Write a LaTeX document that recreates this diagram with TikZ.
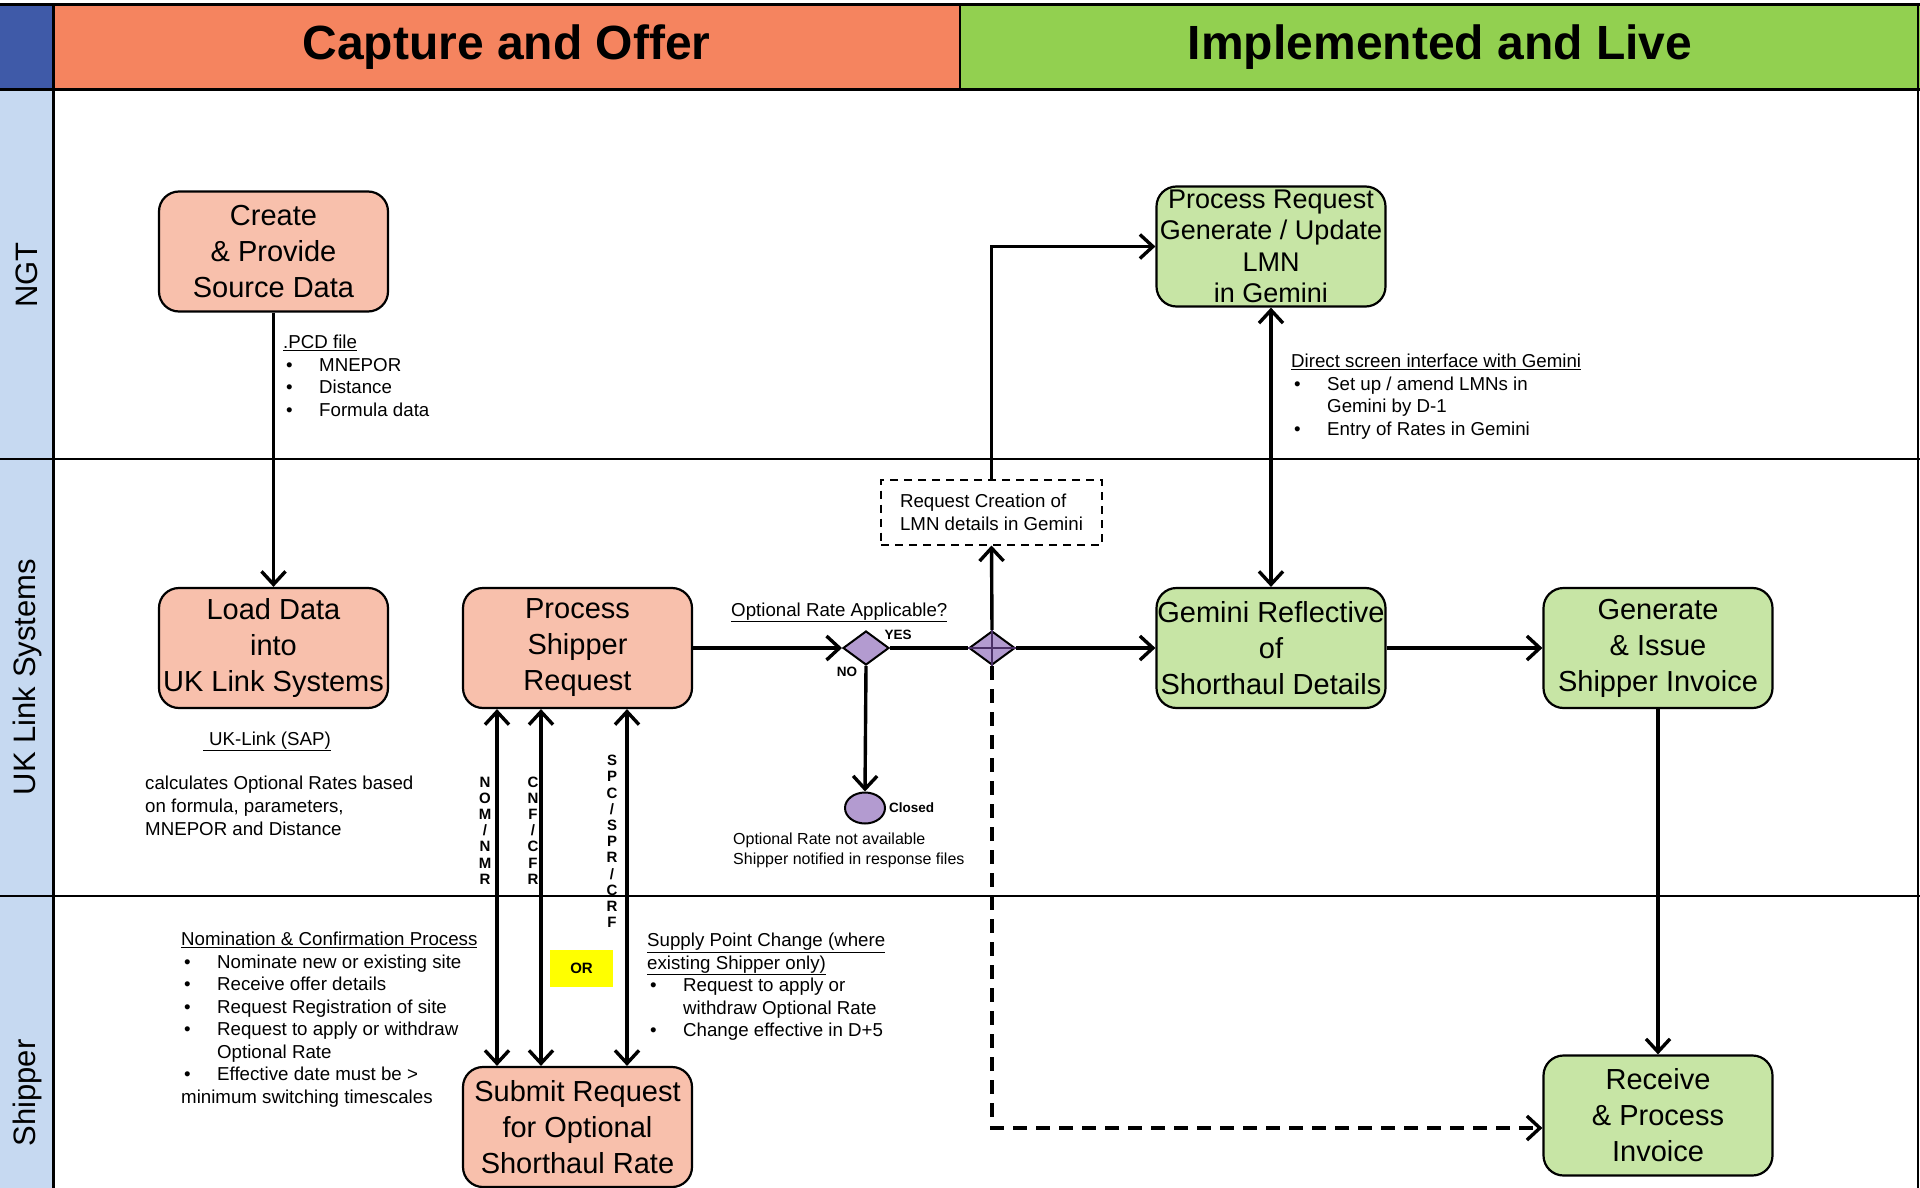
\documentclass[tikz,border=0pt]{standalone}
\usepackage{fontspec}
\setmainfont{Liberation Sans}
\usetikzlibrary{arrows.meta,shapes.geometric,calc}
\definecolor{hdrblue}{HTML}{3F5AA8}
\definecolor{lanecol}{HTML}{C6D9F1}
\definecolor{hdrorange}{HTML}{F5845F}
\definecolor{hdrgreen}{HTML}{92D050}
\definecolor{boxsalmon}{HTML}{F8C0AC}
\definecolor{boxgreen}{HTML}{C7E5A5}
\definecolor{decpurple}{HTML}{B39BD0}
\definecolor{crosspurple}{HTML}{4A2F66}
\definecolor{oryellow}{HTML}{FFFF00}
\newcommand\mybul{\hspace*{3pt}\makebox[33pt][l]{\textbullet}}
\newcommand\myind{\hspace*{36pt}}
\begin{document}
\begin{tikzpicture}[x=1pt,y=-1pt,
  box/.style={draw=black, line width=2.2pt, rounded corners=20pt, minimum width=229pt, minimum height=120pt, align=center, inner sep=0pt, font=\fontsize{29}{36}\selectfont},
  salmon/.style={box, fill=boxsalmon},
  greenbox/.style={box, fill=boxgreen},
  conn/.style={line width=3.4pt},
  arr/.style={conn, -{Straight Barb[length=13pt,width=24pt,line width=3.4pt]}},
  darr/.style={conn, {Straight Barb[length=13pt,width=24pt,line width=3.4pt]}-{Straight Barb[length=13pt,width=24pt,line width=3.4pt]}},
  dasharr/.style={arr, dash pattern=on 14pt off 9pt},
  small/.style={font=\fontsize{18.7}{22.5}\selectfont, inner sep=0pt, align=left},
  smaller/.style={font=\fontsize{16}{19.5}\selectfont, inner sep=0pt, align=left},
  letters/.style={font=\bfseries\fontsize{15}{16.2}\selectfont, inner sep=0pt, align=center},
  tag/.style={font=\bfseries\fontsize{13.5}{16}\selectfont, inner sep=0pt},
  lanelbl/.style={rotate=90, font=\fontsize{31}{36}\selectfont, inner sep=0pt},
  hdrtext/.style={font=\bfseries\fontsize{48}{56}\selectfont, inner sep=0pt},
  decision/.style={diamond, draw=black, line width=2pt, fill=decpurple, minimum width=46pt, minimum height=34pt, inner sep=0pt},
]
\useasboundingbox (0,0) rectangle (1920,1188);
% ---- backgrounds and lanes
\fill[white] (0,0) rectangle (1920,1188);
\fill[lanecol] (0,90) rectangle (53,1188);
\fill[hdrblue] (0,5) rectangle (53,90);
\fill[hdrorange] (53,5) rectangle (960,90);
\fill[hdrgreen] (960,5) rectangle (1920,90);
\draw[line width=3pt] (0,5) -- (1920,5);
\draw[line width=3pt] (0,90) -- (1920,90);
\draw[line width=2.5pt] (0,459) -- (1920,459);
\draw[line width=2.5pt] (0,896) -- (1920,896);
\draw[line width=3pt] (53,5) -- (53,1188);
\draw[line width=2pt] (960,5) -- (960,90);
\draw[line width=2pt] (1918,5) -- (1918,1188);

\node[hdrtext] (hdrA) at (506.5,47) {Capture and Offer};
\node[hdrtext] (hdrB) at (1440,47) {Implemented and Live};
\node[lanelbl] (laneA) at (27,275) {NGT};
\node[lanelbl] (laneB) at (27,677) {UK Link Systems};
\node[lanelbl] (laneC) at (27,1093) {Shipper};

% ---- process boxes
\node[salmon] (create) at (273.5,251.5) {Create\\\& Provide\\Source Data};
\node[salmon] (load) at (273.5,648) {Load Data\\into\\UK Link Systems};
\node[salmon] (psr) at (577.5,648) {Process\\Shipper\\Request};
\node[salmon] (sub) at (577.5,1127) {Submit Request\\for Optional\\Shorthaul Rate};
\node[greenbox, font=\fontsize{27}{31.5}\selectfont] (lmn) at (1271,246.5) {Process Request\\Generate / Update\\LMN\\in Gemini};
\node[greenbox] (gem) at (1271,648) {Gemini Reflective\\of\\Shorthaul Details};
\node[greenbox] (inv) at (1658,648) {Generate\\\& Issue\\Shipper Invoice};
\node[greenbox] (recv) at (1658,1115.5) {Receive\\\& Process\\Invoice};
\node[draw=black, line width=2pt, dash pattern=on 8pt off 6pt, minimum width=221pt, minimum height=65pt, inner sep=0pt, font=\fontsize{18.7}{23}\selectfont, align=left] (req) at (991.5,512) {Request Creation of\\LMN details in Gemini};

% ---- decisions
\node[decision] (d1) at (866,648) {};
\node[decision] (d2) at (992,648) {};
\node[ellipse, draw=black, line width=2pt, fill=decpurple, minimum width=40pt, minimum height=31pt, inner sep=0pt] (closed) at (865,808) {};

% ---- connectors
\draw[arr] (create.south) -- (load.north);
\draw[arr] (psr.east) -- (d1.west);
\draw[conn] (d1.east) -- (d2.west);
\draw[arr] (d2.east) -- (gem.west);
\draw[arr] (d1.south) -- (closed.north);
\draw[arr] (d2.north) -- (req.south);
\draw[arr] (req.north) |- (lmn.west);
\coordinate (dcorner) at (992,1128);
\draw[dasharr] (d2.south) -- (dcorner) -- (recv.west |- dcorner);
\draw[crosspurple, line width=2.5pt] (d2.west) -- (d2.east) (d2.north) -- (d2.south);
\draw[darr] (lmn.south) -- (gem.north);
\draw[arr] (gem.east) -- (inv.west);
\draw[arr] (inv.south) -- (recv.north);
\coordinate (xa) at (497,0);
\coordinate (xb) at (541,0);
\coordinate (xc) at (627,0);
\draw[darr] (psr.south -| xa) -- (sub.north -| xa);
\draw[darr] (psr.south -| xb) -- (sub.north -| xb);
\draw[darr] (psr.south -| xc) -- (sub.north -| xc);

% ---- labels
\node[letters] (lnom) at (485,830.5) {N\\O\\M\\/\\N\\M\\R};
\node[letters] (lcnf) at (533,830.5) {C\\N\\F\\/\\C\\F\\R};
\node[letters] (lspc) at (612,841.5) {S\\P\\C\\/\\S\\P\\R\\/\\C\\R\\F};

\node[small, anchor=north west] (pcd) at (283,335) {\underline{.PCD file}\\\mybul MNEPOR\\\mybul Distance\\\mybul Formula data};
\node[small, anchor=base west] (sap) at (203,745) {\underline{\hspace*{6pt}UK-Link (SAP)}};
\node[small, anchor=north west, font=\fontsize{18.7}{23}\selectfont] (calc) at (145,776) {calculates Optional Rates based\\on formula, parameters,\\MNEPOR and Distance};
\node[small, anchor=base west] (opt) at (731,616) {\underline{Optional Rate Applicable?}};
\node[tag] (yes) at (898,635) {YES};
\node[tag] (no) at (847,672) {NO};
\node[tag, anchor=west] (closedlbl) at (889,808) {Closed};
\node[smaller, anchor=north west] (notavail) at (733,833) {Optional Rate not available\\Shipper notified in response files};
\node[small, anchor=north west] (direct) at (1291,354) {\underline{Direct screen interface with Gemini}\\\mybul Set up / amend LMNs in\\\myind Gemini by D-1\\\mybul Entry of Rates in Gemini};
\node[small, anchor=north west] (nom) at (181,932) {\underline{Nomination \& Confirmation Process}\\\mybul Nominate new or existing site\\\mybul Receive offer details\\\mybul Request Registration of site\\\mybul Request to apply or withdraw\\\myind Optional Rate\\\mybul Effective date must be >\\minimum switching timescales};
\node[fill=oryellow, minimum width=63pt, minimum height=37pt, inner sep=0pt, font=\bfseries\fontsize{15}{18}\selectfont] (orbox) at (581.5,968.5) {OR};
\node[small, anchor=north west] (spc) at (647,933) {\underline{Supply Point Change (where}\\\underline{existing Shipper only)}\\\mybul Request to apply or\\\myind withdraw Optional Rate\\\mybul Change effective in D+5};
\end{tikzpicture}
\end{document}
